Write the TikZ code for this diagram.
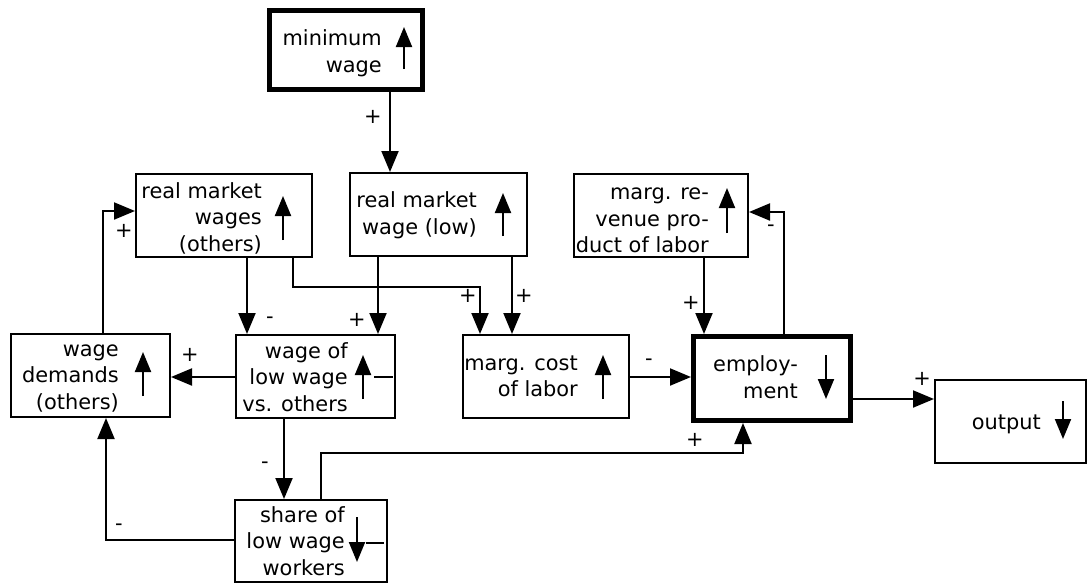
\documentclass[tikz,border=0pt]{standalone}
\usepackage{fontspec}
\setmainfont{DejaVu Sans}
\usetikzlibrary{arrows.meta}
\begin{document}
\begin{tikzpicture}[x=1pt,y=-1pt,
  box/.style={draw, rectangle, line width=2pt, inner sep=0pt},
  keybox/.style={box, line width=5pt},
  txt/.style={anchor=east, align=right, inner sep=0pt, font=\fontsize{20.9}{26.5}\selectfont},
  conn/.style={line width=2pt, -{Triangle[length=21pt,width=17pt]}},
  trend/.style={line width=2pt, -{Triangle[length=20pt,width=16pt]}},
  sign/.style={inner sep=0pt, font=\fontsize{20.9}{24}\selectfont},
  tick/.style={line width=2pt}]
\useasboundingbox (0,0) rectangle (1088,584);

% boxes
\node[keybox, minimum width=153pt, minimum height=79pt] (mw)  at (346,50) {};
\node[box, minimum width=176pt, minimum height=83pt]    (rmo) at (224,215.5) {};
\node[box, minimum width=177pt, minimum height=83pt]    (rml) at (438.5,214.5) {};
\node[box, minimum width=174pt, minimum height=83pt]    (mrp) at (661,215.5) {};
\node[box, minimum width=159pt, minimum height=83pt]    (wd)  at (90.5,375.5) {};
\node[box, minimum width=159pt, minimum height=83pt]    (wl)  at (315.5,376.5) {};
\node[box, minimum width=166pt, minimum height=83pt]    (mc)  at (546,376.5) {};
\node[keybox, minimum width=157pt, minimum height=84pt] (emp) at (772,378.5) {};
\node[box, minimum width=151pt, minimum height=83pt]    (out) at (1010.5,421.5) {};
\node[box, minimum width=152pt, minimum height=82pt]    (sh)  at (311,541) {};

% box texts
\node[txt] (tmw)  at (382,53)    {minimum\\wage};
\node[txt] (trmo) at (262,218)   {real market\\wages\\(others)};
\node[txt] (trml) at (477,215)   {real market\\wage (low)};
\node[txt] (tmrp) at (709,220.5) {marg. re-\\venue pro-\\duct of labor};
\node[txt] (twd)  at (119,378.5) {wage\\demands\\(others)};
\node[txt] (twl)  at (348,377)   {wage of\\low wage\\vs. others};
\node[txt] (tmc)  at (578,376.5) {marg. cost\\of labor};
\node[txt] (temp) at (798,377)   {employ-\\ment};
\node[txt] (tout) at (1041,424)  {output};
\node[txt] (tsh)  at (345,541)   {share of\\low wage\\workers};

% trend arrows inside the boxes
\draw[trend] (404,69)  -- (404,27);
\draw[trend] (283,240) -- (283,196);
\draw[trend] (503,236) -- (503,193);
\draw[trend] (727,233) -- (727,188);
\draw[trend] (143,396) -- (143,352);
\draw[trend] (363,399) -- (363,355);
\draw[tick]  (374,377) -- (393,377);
\draw[trend] (603,399) -- (603,355);
\draw[trend] (826,355) -- (826,399);
\draw[trend] (1063,401) -- (1063,439);
\draw[trend] (357,517) -- (357,562);
\draw[tick]  (366,543) -- (384,543);

% connectors
\draw[conn] (mw.south -| 390,0) -- (rml.north -| 390,0);
\draw[conn] (rmo.south -| 247,0) -- (wl.north -| 247,0);
\draw[conn] (rmo.south -| 293,0) |- (480,287) -- (mc.north -| 480,0);
\draw[conn] (rml.south -| 378,0) -- (wl.north -| 378,0);
\draw[conn] (rml.south -| 512,0) -- (mc.north -| 512,0);
\draw[conn] (wl.west |- 0,377) -- (wd.east |- 0,377);
\draw[conn] (wd.north -| 103,0) |- (rmo.west |- 0,211);
\draw[conn] (wl.south -| 284,0) -- (sh.north -| 284,0);
\draw[conn] (sh.west |- 0,540) -| (wd.south -| 106,0);
\draw[conn] (sh.north -| 321,0) |- (743,453) -- (emp.south -| 743,0);
\draw[conn] (mc.east |- 0,377) -- (emp.west |- 0,377);
\draw[conn] (mrp.south -| 704,0) -- (emp.north -| 704,0);
\draw[conn] (emp.north -| 784,0) |- (mrp.east |- 0,212);
\draw[conn] (emp.east |- 0,399) -- (out.west |- 0,399);

% signs
\node[sign] (p1)  at (373,117) {+};
\node[sign] (m1)  at (270,320) {-};
\node[sign] (p2)  at (468,296) {+};
\node[sign] (p3)  at (357,320) {+};
\node[sign] (p4)  at (524,296) {+};
\node[sign] (p5)  at (190,355) {+};
\node[sign] (p6)  at (124,231) {+};
\node[sign] (m2)  at (265,465) {-};
\node[sign] (m3)  at (119,527) {-};
\node[sign] (p7)  at (695,440) {+};
\node[sign] (m4)  at (649,362) {-};
\node[sign] (p8)  at (691,303) {+};
\node[sign] (m5)  at (771,228) {-};
\node[sign] (p9)  at (922,379) {+};
\end{tikzpicture}
\end{document}
